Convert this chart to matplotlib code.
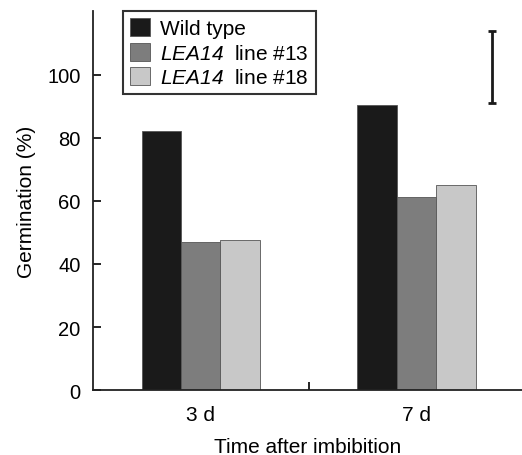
import numpy as np
import matplotlib
matplotlib.use("Agg")
import matplotlib.pyplot as plt

plt.rcParams['font.family'] = ['Liberation Sans', 'DejaVu Sans']
plt.rcParams['mathtext.fontset'] = 'custom'
plt.rcParams['mathtext.it'] = 'Liberation Sans:italic'
plt.rcParams['mathtext.rm'] = 'Liberation Sans:italic'

# data
times = ["3 d", "7 d"]
series = ["Wild type", r"$LEA14$  line #13", r"$LEA14$  line #18"]
wild_type = [82.3, 90.5]
line13 = [46.9, 61.3]
line18 = [47.7, 65.2]
colors = ["#1a1a1a", "#7d7d7d", "#c8c8c8"]
# representative error bar (drawn at the upper right)
err_center = 102.5
err_half = 11.3

fig = plt.figure(figsize=(5.22, 4.56), dpi=100)
ax = fig.add_axes([0.178, 0.1425, 0.822, 0.8312])

x = np.arange(len(times))
w = 0.183
for i, (vals, lab) in enumerate(zip([wild_type, line13, line18], series)):
    ax.bar(x + (i - 1) * w, vals, w, color=colors[i], edgecolor="#555555",
           linewidth=0.6, label=lab)

ax.errorbar([1.353], [err_center], yerr=[err_half], color="#1a1a1a",
            capsize=3, capthick=2, elinewidth=2)

ax.set_xlim(-0.5, 1.49)
ax.set_ylim(0, 120.3)
ax.set_yticks([0, 20, 40, 60, 80, 100])
ax.set_xticks(x)
ax.set_xticklabels(times)
ax.tick_params(axis="x", length=0, pad=11, labelsize=15)
ax.set_xticks([0.5], minor=True)
ax.tick_params(axis="x", which="minor", direction="in", length=6, width=1.2)
ax.tick_params(axis="y", direction="in", length=6, width=1.2, labelsize=14.5, pad=9)

for s in ["top", "right"]:
    ax.spines[s].set_visible(False)
for s in ["left", "bottom"]:
    ax.spines[s].set_linewidth(1.3)
    ax.spines[s].set_color("#222222")

ax.set_ylabel("Germination (%)", fontsize=15, labelpad=8)
ax.set_xlabel("Time after imbibition", fontsize=15, labelpad=9)

leg = ax.legend(loc="upper left", bbox_to_anchor=(0.07, 1.0), borderaxespad=0,
                fancybox=False, edgecolor="black", fontsize=15,
                handlelength=0.95, handleheight=0.95, handletextpad=0.5,
                labelspacing=0.2, borderpad=0.35)
leg.get_frame().set_linewidth(1.5)

fig.savefig("out.png", dpi=100)
